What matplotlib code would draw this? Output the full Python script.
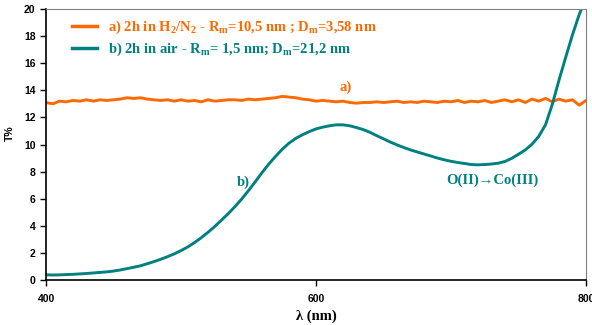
import numpy as np
import matplotlib
matplotlib.use('Agg')
import matplotlib.pyplot as plt

plt.rcParams['mathtext.default'] = 'regular'

# sample a) 2h in H2/N2 (read every 5 nm)
wl_a = np.arange(400, 801, 5)
T_a = [13.1, 13.0, 13.2, 13.15, 13.25, 13.2, 13.3, 13.2, 13.3, 13.25,
       13.3, 13.35, 13.45, 13.4, 13.45, 13.35, 13.3, 13.25, 13.3, 13.2,
       13.3, 13.2, 13.25, 13.15, 13.3, 13.2, 13.25, 13.3, 13.3, 13.25,
       13.35, 13.3, 13.35, 13.4, 13.45, 13.55, 13.5, 13.45, 13.35, 13.3,
       13.2, 13.25, 13.2, 13.15, 13.2, 13.1, 13.05, 13.1, 13.1, 13.15,
       13.1, 13.15, 13.2, 13.1, 13.15, 13.1, 13.2, 13.15, 13.1, 13.2,
       13.15, 13.25, 13.1, 13.2, 13.15, 13.25, 13.1, 13.2, 13.3, 13.15,
       13.3, 13.1, 13.35, 13.2, 13.4, 13.15, 13.35, 13.2, 13.3, 12.9, 13.25]

# sample b) 2h in air (read every 5 nm)
wl_b = np.arange(400, 801, 5)
T_b = [0.38, 0.37, 0.38, 0.40, 0.42, 0.45, 0.48, 0.52, 0.56, 0.60,
       0.66, 0.74, 0.84, 0.94, 1.05, 1.2, 1.36, 1.53, 1.72, 1.93,
       2.17, 2.44, 2.76, 3.12, 3.52, 3.95, 4.42, 4.9, 5.42, 5.98,
       6.6, 7.25, 7.92, 8.55, 9.12, 9.65, 10.1, 10.45, 10.72, 10.95,
       11.15, 11.28, 11.38, 11.45, 11.45, 11.38, 11.25, 11.1, 10.9, 10.65,
       10.42, 10.18, 9.97, 9.78, 9.6, 9.45, 9.3, 9.15, 9.0, 8.87,
       8.76, 8.67, 8.6, 8.52, 8.5, 8.52, 8.56, 8.62, 8.75, 8.98,
       9.28, 9.6, 10.02, 10.6, 11.45, 12.95, 14.75, 16.45, 18.1, 19.6, 20.8]

orange = '#FF6A00'
teal = '#008080'

fig = plt.figure(figsize=(5.92, 3.25), dpi=100)
ax = fig.add_axes([46/592, 1-280/325, 540/592, 271/325])

ax.plot(wl_a, T_a, color=orange, lw=2.1,
        label='a) 2h in H$_2$/N$_2$ - R$_m$=10,5 nm ; D$_m$=3,58 nm')
ax.plot(wl_b, T_b, color=teal, lw=2.1,
        label='b) 2h in air - R$_m$= 1,5 nm; D$_m$=21,2 nm')

ax.set_xlim(400, 800)
ax.set_ylim(0, 20)
ax.set_xticks([400, 600, 800])
ax.set_yticks(range(0, 21, 2))
for lab in ax.get_xticklabels() + ax.get_yticklabels():
    lab.set_fontfamily('Liberation Sans')
    lab.set_fontweight('bold')
    lab.set_fontsize(7.5)
ax.tick_params(length=4, width=1)
ax.tick_params(axis='x', pad=6)

for s in ['top', 'right']:
    ax.spines[s].set_color('#808080')
ax.spines['left'].set_linewidth(1.2)
ax.spines['bottom'].set_linewidth(1.2)

ax.set_ylabel('T%', fontfamily='Liberation Sans', fontweight='bold', fontsize=7.5)
ax.yaxis.set_label_coords(-0.057, 0.54)
ax.set_xlabel('λ (nm)', fontfamily='Liberation Serif', fontweight='bold', fontsize=10.5)

serif = dict(family=['Liberation Serif', 'DejaVu Serif'], weight='bold', size=10.5)
ax.text(622, 14.2, 'a)', color=orange, ha='center', va='center', **serif)
ax.text(546, 7.2, 'b)', color=teal, ha='center', va='center', **serif)
ax.text(731, 7.35, 'O(II)→Co(III)', color=teal, ha='center', va='center', **serif)

leg = ax.legend(loc='upper left', bbox_to_anchor=(0.048, 0.965), frameon=False,
                borderaxespad=0, borderpad=0, handlelength=1.7, handletextpad=0.8,
                labelspacing=0.35,
                prop=dict(family='Liberation Serif', weight='bold', size=10.5))
for t, c in zip(leg.get_texts(), [orange, teal]):
    t.set_color(c)
for h in leg.legend_handles:
    h.set_linewidth(2.5)

fig.savefig('out.png', dpi=100)
